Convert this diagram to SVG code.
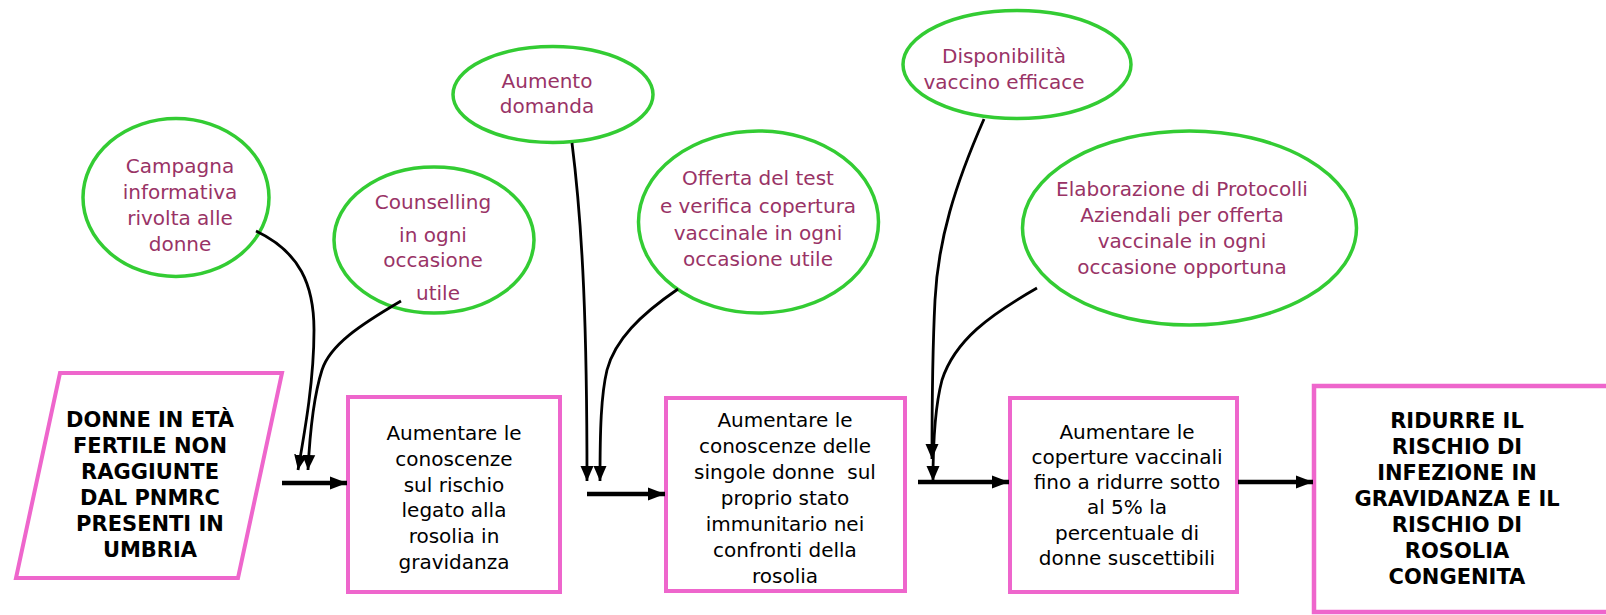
<svg xmlns="http://www.w3.org/2000/svg" width="1606" height="615" viewBox="0 0 1606 615">
<style>
.bg{fill:#ffffff}
.ell{fill:#ffffff;stroke:#33CC33;stroke-width:3.5}
.box{fill:#ffffff;stroke:#EE66CC;stroke-width:4}
.et{font-family:"DejaVu Sans",Verdana,sans-serif;font-size:20px;fill:#993366;text-anchor:middle}
.bt{font-family:"DejaVu Sans",Verdana,sans-serif;font-size:20px;fill:#000000;text-anchor:middle}
.bb{font-family:"DejaVu Sans",Verdana,sans-serif;font-size:21px;font-weight:bold;fill:#000000;text-anchor:middle}
.thin{fill:none;stroke:#000000;stroke-width:2.8;marker-end:url(#ah)}
.thick{fill:none;stroke:#000000;stroke-width:4.5;marker-end:url(#ahb)}
</style>
<defs>
<marker id="ah" markerUnits="userSpaceOnUse" markerWidth="16" markerHeight="16" viewBox="0 0 16 16" refX="15" refY="8" orient="auto">
<path d="M0,1.5 L15,8 L0,14.5 Z" fill="#000000"/>
</marker>
<marker id="ahb" markerUnits="userSpaceOnUse" markerWidth="18" markerHeight="16" viewBox="0 0 18 16" refX="17" refY="8" orient="auto">
<path d="M0,1.5 L17,8 L0,14.5 Z" fill="#000000"/>
</marker>
</defs>
<rect class="bg" x="0" y="0" width="1606" height="615"/>

<g id="n-campagna">
<ellipse class="ell" cx="176" cy="197.5" rx="93" ry="79"/>
<text class="et" x="180" y="173">Campagna</text>
<text class="et" x="180" y="199">informativa</text>
<text class="et" x="180" y="225">rivolta alle</text>
<text class="et" x="180" y="251">donne</text>
</g>

<g id="n-counselling">
<ellipse class="ell" cx="434" cy="240" rx="100" ry="73"/>
<text class="et" x="433" y="209">Counselling</text>
<text class="et" x="433" y="242">in ogni</text>
<text class="et" x="433" y="267">occasione</text>
<text class="et" x="438" y="300">utile</text>
</g>

<g id="n-aumento">
<ellipse class="ell" cx="553" cy="94.5" rx="100" ry="48"/>
<text class="et" x="547" y="88">Aumento</text>
<text class="et" x="547" y="113">domanda</text>
</g>

<g id="n-offerta">
<ellipse class="ell" cx="758.5" cy="222" rx="120" ry="91"/>
<text class="et" x="758" y="185">Offerta del test</text>
<text class="et" x="758" y="213">e verifica copertura</text>
<text class="et" x="758" y="240">vaccinale in ogni</text>
<text class="et" x="758" y="266">occasione utile</text>
</g>

<g id="n-disponibilita">
<ellipse class="ell" cx="1017" cy="64.5" rx="114" ry="54"/>
<text class="et" x="1004" y="63">Disponibilità</text>
<text class="et" x="1004" y="89">vaccino efficace</text>
</g>

<g id="n-elaborazione">
<ellipse class="ell" cx="1189.5" cy="228" rx="167" ry="97"/>
<text class="et" x="1182" y="196">Elaborazione di Protocolli</text>
<text class="et" x="1182" y="222">Aziendali per offerta</text>
<text class="et" x="1182" y="248">vaccinale in ogni</text>
<text class="et" x="1182" y="274">occasione opportuna</text>
</g>

<g id="n-donne">
<polygon class="box" points="60,373 282,373 238,578 16,578"/>
<text class="bb" x="150" y="427">DONNE IN ETÀ</text>
<text class="bb" x="150" y="453">FERTILE NON</text>
<text class="bb" x="150" y="479">RAGGIUNTE</text>
<text class="bb" x="150" y="505">DAL PNMRC</text>
<text class="bb" x="150" y="531">PRESENTI IN</text>
<text class="bb" x="150" y="557">UMBRIA</text>
</g>

<g id="n-box1">
<rect class="box" x="348" y="397" width="212" height="195"/>
<text class="bt" x="454" y="440">Aumentare le</text>
<text class="bt" x="454" y="466">conoscenze</text>
<text class="bt" x="454" y="492">sul rischio</text>
<text class="bt" x="454" y="517">legato alla</text>
<text class="bt" x="454" y="543">rosolia in</text>
<text class="bt" x="454" y="569">gravidanza</text>
</g>

<g id="n-box2">
<rect class="box" x="666" y="398" width="239" height="193"/>
<text class="bt" x="785" y="427">Aumentare le</text>
<text class="bt" x="785" y="453">conoscenze delle</text>
<text class="bt" x="785" y="479" style="white-space:pre">singole donne  sul</text>
<text class="bt" x="785" y="505">proprio stato</text>
<text class="bt" x="785" y="531">immunitario nei</text>
<text class="bt" x="785" y="557">confronti della</text>
<text class="bt" x="785" y="583">rosolia</text>
</g>

<g id="n-box3">
<rect class="box" x="1010" y="398" width="227" height="194"/>
<text class="bt" x="1127" y="439">Aumentare le</text>
<text class="bt" x="1127" y="464">coperture vaccinali</text>
<text class="bt" x="1127" y="489">fino a ridurre sotto</text>
<text class="bt" x="1127" y="514">al 5% la</text>
<text class="bt" x="1127" y="540">percentuale di</text>
<text class="bt" x="1127" y="565">donne suscettibili</text>
</g>

<g id="n-box4">
<rect class="box" x="1314" y="386" width="300" height="226" style="stroke-width:4.5"/>
<text class="bb" x="1457" y="428">RIDURRE IL</text>
<text class="bb" x="1457" y="454">RISCHIO DI</text>
<text class="bb" x="1457" y="480">INFEZIONE IN</text>
<text class="bb" x="1457" y="506">GRAVIDANZA E IL</text>
<text class="bb" x="1457" y="532">RISCHIO DI</text>
<text class="bb" x="1457" y="558">ROSOLIA</text>
<text class="bb" x="1457" y="584">CONGENITA</text>
</g>

<g id="connectors">
<path class="thin" d="M256,231 C300,252 314,285 314,330 C314,380 305,430 298,470"/>
<path class="thin" d="M401,301 C360,325 330,345 322,370 C314,395 310,430 308,470"/>
<path class="thin" d="M572,143 C583,230 587,330 587,481"/>
<path class="thin" d="M678,289 C640,315 615,340 607,370 C601,395 600,430 600,481"/>
<path class="thin" d="M984,119 C955,185 938,240 935,300 C932,360 932,410 932,459"/>
<path class="thin" d="M1037,288 C990,315 955,340 942,380 C934,410 933,450 933,481"/>
<path class="thick" d="M282,483 L347,483"/>
<path class="thick" d="M587,494 L665,494"/>
<path class="thick" d="M918,482 L1009,482"/>
<path class="thick" d="M1238,482 L1313,482"/>
</g>
</svg>
